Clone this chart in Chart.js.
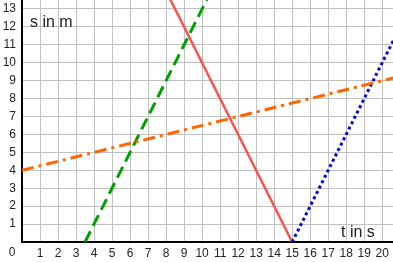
<!DOCTYPE html>
<html>
<head>
<meta charset="utf-8">
<script src="https://cdn.jsdelivr.net/npm/chart.js@4.4.0/dist/chart.umd.min.js"></script>
<style>
  body { margin: 0; background: #fff; }
  canvas { display: block; }
</style>
</head>
<body>
<canvas id="chart" width="393" height="262"></canvas>
<script>
// Achsen (t in s, s in m)
const xTicks = [0, 1, 2, 3, 4, 5, 6, 7, 8, 9, 10, 11, 12, 13, 14, 15, 16, 17, 18, 19, 20];
const yTicks = [0, 1, 2, 3, 4, 5, 6, 7, 8, 9, 10, 11, 12, 13];
const xMax = 20.6;
const yMax = 13.5;

// Geraden, jeweils zwei Punkte (t, s)
const redT = [15, 8];
const redS = [0, 14];
const greenT = [3.5, 10.5];
const greenS = [0, 14];
const orangeT = [0, 24];
const orangeS = [4, 10];
const blueT = [15, 22];
const blueS = [0, 14];

const fontFamily = '"Liberation Sans", Arial, sans-serif';

function toPoints(ts, ss) {
  return ts.map((t, i) => ({ x: t, y: ss[i] }));
}

// Beschriftungen "s in m", "t in s" und die 0 im Ursprung
const labelPlugin = {
  id: 'labels',
  afterDraw(chart) {
    const ctx = chart.ctx;
    const x = chart.scales.x;
    const y = chart.scales.y;
    ctx.save();
    ctx.fillStyle = '#222';
    ctx.font = '16px ' + fontFamily;
    ctx.textBaseline = 'alphabetic';
    ctx.textAlign = 'left';
    ctx.fillText('s in m', 30, 27);
    ctx.fillText('t in s', 341, 237);
    ctx.font = '12px ' + fontFamily;
    ctx.textAlign = 'center';
    ctx.textBaseline = 'middle';
    ctx.fillText('0', 12, 253);
    ctx.restore();
  }
};

const ctx = document.getElementById('chart').getContext('2d');

new Chart(ctx, {
  type: 'line',
  data: {
    datasets: [
      {
        data: toPoints(orangeT, orangeS),
        borderColor: 'rgb(255, 102, 0)',
        borderWidth: 3,
        borderDash: [12, 5, 3, 5],
        pointRadius: 0
      },
      {
        data: toPoints(greenT, greenS),
        borderColor: 'rgb(0, 160, 0)',
        borderWidth: 3,
        borderDash: [12, 6],
        pointRadius: 0
      },
      {
        data: toPoints(blueT, blueS),
        borderColor: 'rgb(0, 0, 220)',
        borderWidth: 3,
        borderDash: [3, 3],
        pointRadius: 0
      },
      {
        data: toPoints(redT, redS),
        borderColor: 'rgb(255, 80, 80)',
        borderWidth: 2.5,
        pointRadius: 0
      }
    ]
  },
  options: {
    responsive: false,
    animation: false,
    layout: { padding: 0 },
    plugins: {
      legend: { display: false },
      tooltip: { enabled: false }
    },
    scales: {
      x: {
        type: 'linear',
        min: 0,
        max: xMax,
        afterBuildTicks: s => { s.ticks = xTicks.map(v => ({ value: v })); },
        afterFit: s => { s.height = 20; s.paddingLeft = 0; s.paddingRight = 0; },
        grid: { color: '#c0c0c0', lineWidth: 1, drawTicks: false },
        border: { color: '#000', width: 2 },
        ticks: {
          color: '#222',
          font: { family: fontFamily, size: 12 },
          padding: 4,
          maxRotation: 0,
          autoSkip: false,
          callback: v => v === 0 ? '' : v
        }
      },
      y: {
        type: 'linear',
        min: 0,
        max: yMax,
        afterBuildTicks: s => { s.ticks = yTicks.map(v => ({ value: v })); },
        afterFit: s => { s.width = 22; s.paddingTop = 0; s.paddingBottom = 0; },
        grid: { color: '#c0c0c0', lineWidth: 1, drawTicks: false },
        border: { color: '#000', width: 2 },
        ticks: {
          color: '#222',
          font: { family: fontFamily, size: 12 },
          padding: 6,
          autoSkip: false,
          callback: v => v === 0 ? '' : v
        }
      }
    }
  },
  plugins: [labelPlugin]
});
</script>
</body>
</html>
